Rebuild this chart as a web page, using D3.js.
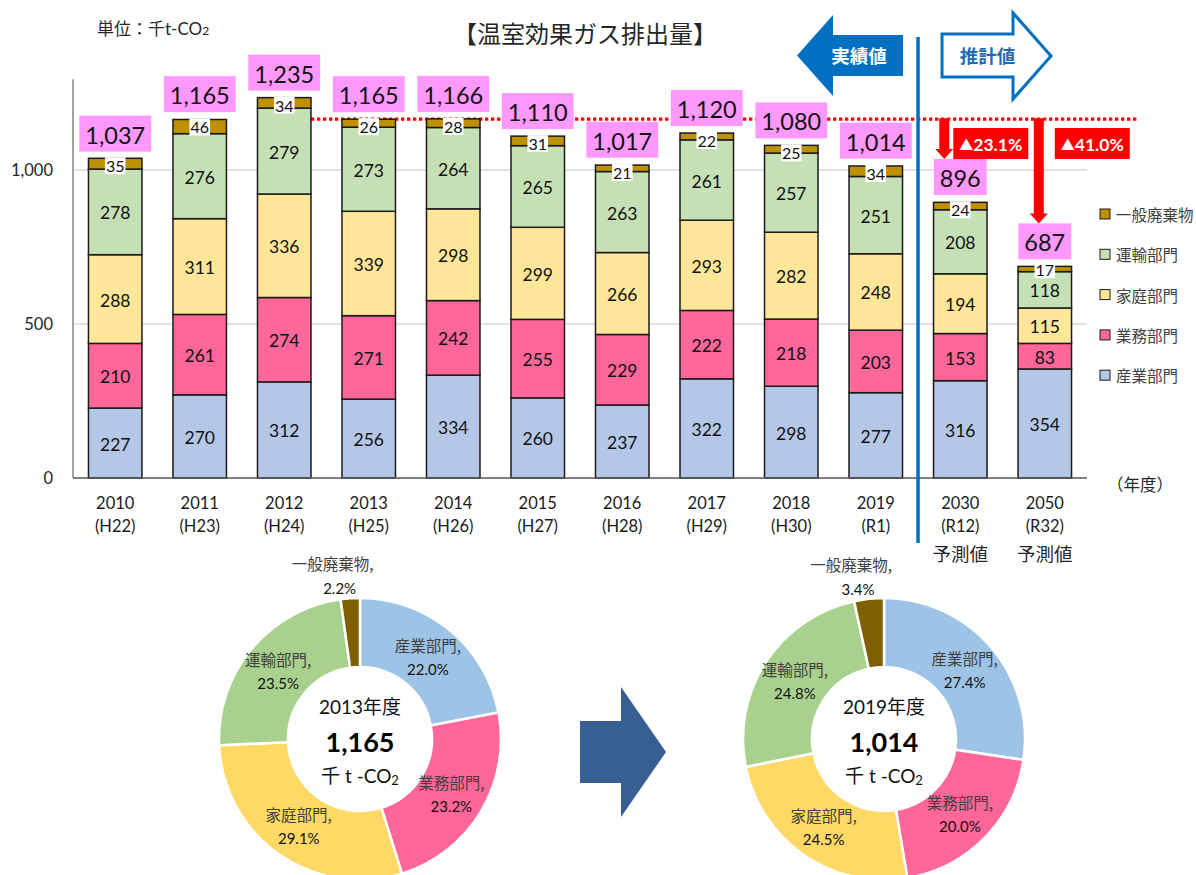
<!DOCTYPE html>
<html>
<head>
<meta charset="utf-8">
<script src="https://cdn.jsdelivr.net/npm/d3@7"></script>
<style>
  body { margin: 0; background: #fff; }
  svg { display: block; }
  text { font-family: Lato, "Noto Sans CJK JP", sans-serif; }
</style>
</head>
<body>
<svg id="chart" width="1196" height="875"></svg>
<script>
// ---- data -------------------------------------------------------------
const years      = ["2010","2011","2012","2013","2014","2015","2016","2017","2018","2019","2030","2050"];
const eraLabels  = ["(H22)","(H23)","(H24)","(H25)","(H26)","(H27)","(H28)","(H29)","(H30)","(R1)","(R12)","(R32)"];
const noteLabels = ["","","","","","","","","","","予測値","予測値"];
const sectors    = ["産業部門","業務部門","家庭部門","運輸部門","一般廃棄物"];
const industry   = [227,270,312,256,334,260,237,322,298,277,316,354];
const commercial = [210,261,274,271,242,255,229,222,218,203,153,83];
const household  = [288,311,336,339,298,299,266,293,282,248,194,115];
const transport  = [278,276,279,273,264,265,263,261,257,251,208,118];
const waste      = [35,46,34,26,28,31,21,22,25,34,24,17];
const totals     = [1037,1165,1235,1165,1166,1110,1017,1120,1080,1014,896,687];
const yTicks     = [0,500,1000];
const baseYear   = "2013";
const lastActual = "2019";
const targetYears = ["2030","2050"];
const share2013  = [22.0,23.2,29.1,23.5,2.2];
const share2019  = [27.4,20.0,24.5,24.8,3.4];

// ---- styling ----------------------------------------------------------
const barColors   = ["#b4c7e7","#ff6699","#ffe699","#c5e0b4","#bf9000"];
const donutColors = ["#9dc3e6","#ff6699","#ffd966","#a9d18e","#7f6000"];
const blue = "#0070c0";
const cjk = '"Noto Sans CJK JP", sans-serif';

const svg = d3.select("#chart");

// ---- scales -----------------------------------------------------------
const x = d3.scaleBand().domain(years).range([73, 1087]).paddingInner(0.367).paddingOuter(0.183);
const y = d3.scaleLinear().domain([0, 1300]).range([478, 478 - 1300 * 0.308]);
const bw = x.bandwidth();
const fmt = d3.format(",");

const rows = years.map((yr, i) => ({
  year: yr,
  [sectors[0]]: industry[i],
  [sectors[1]]: commercial[i],
  [sectors[2]]: household[i],
  [sectors[3]]: transport[i],
  [sectors[4]]: waste[i],
  total: totals[i]
}));
const stacked = d3.stack().keys(sectors)(rows);

// ---- titles -----------------------------------------------------------
svg.append("text").attr("x", 585).attr("y", 32).attr("text-anchor", "middle")
  .attr("dominant-baseline", "central").attr("font-size", 24).attr("fill", "#262626")
  .style("font-family", cjk).text("【温室効果ガス排出量】");

const unit = svg.append("text").attr("x", 97).attr("y", 28).attr("dominant-baseline", "central")
  .attr("font-size", 17).attr("fill", "#262626");
unit.append("tspan").text("単位：千t-CO");
unit.append("tspan").attr("font-size", 12).attr("dy", 2).text("2");

// ---- grid & axes ------------------------------------------------------
const grid = svg.append("g");
grid.selectAll("line").data(yTicks.filter(d => d > 0)).join("line")
  .attr("x1", 73).attr("x2", 1087).attr("y1", d => y(d)).attr("y2", d => y(d))
  .attr("stroke", "#d9d9d9").attr("stroke-width", 1.3);

const yAxis = svg.append("g").attr("transform", "translate(73,0)")
  .call(d3.axisLeft(y).tickValues(yTicks).tickSize(0).tickPadding(20).tickFormat(fmt));
yAxis.select(".domain").remove();
yAxis.selectAll("text").attr("font-size", 16.5).attr("fill", "#262626")
  .style("font-family", "Lato, sans-serif");

svg.append("line").attr("x1", 73).attr("x2", 73).attr("y1", y(0)).attr("y2", y(1295))
  .attr("stroke", "#8c8c8c").attr("stroke-width", 1.6);

// reference level of the base year
const baseTotal = totals[years.indexOf(baseYear)];
const refY = y(baseTotal);
svg.append("line")
  .attr("x1", x("2012") + bw).attr("x2", 1138).attr("y1", refY).attr("y2", refY)
  .attr("stroke", "#ff0000").attr("stroke-width", 3.2).attr("stroke-dasharray", "3.4,2.6");

// ---- stacked bars -----------------------------------------------------
const layers = svg.append("g").selectAll("g").data(stacked).join("g")
  .attr("fill", (d, i) => barColors[i]);
layers.selectAll("rect").data(d => d).join("rect")
  .attr("x", d => x(d.data.year)).attr("width", bw)
  .attr("y", d => y(d[1])).attr("height", d => y(d[0]) - y(d[1]))
  .attr("stroke", "#1a1a1a").attr("stroke-width", 1.5);

svg.append("line").attr("x1", 73).attr("x2", 1087).attr("y1", y(0)).attr("y2", y(0))
  .attr("stroke", "#595959").attr("stroke-width", 1.6);

// segment values (lower four sectors)
const segY = d => (y(d[0]) + y(d[1])) / 2 + 1;
const segLabels = svg.append("g");
stacked.slice(0, 4).forEach(layer => {
  segLabels.selectAll(null).data(layer).join("text")
    .attr("x", d => x(d.data.year) + bw / 2)
    .attr("y", segY)
    .attr("text-anchor", "middle").attr("dominant-baseline", "central")
    .attr("font-size", 17.5).attr("fill", "#111")
    .text(d => d[1] - d[0]);
});

// waste values on white tags at the top of each bar,
// lifted where the bar is short so they stay clear of the label below
const wasteLayer = stacked[4];
const transportLayer = stacked[3];
const tags = svg.append("g").selectAll("g").data(wasteLayer).join("g");
tags.append("text")
  .attr("x", d => x(d.data.year) + bw / 2)
  .attr("y", (d, i) => Math.min(y(d[1]) + 7.5, segY(transportLayer[i]) - 21))
  .attr("text-anchor", "middle").attr("dominant-baseline", "central")
  .attr("font-size", 16).attr("fill", "#111")
  .text(d => d[1] - d[0]);
tags.each(function() {
  const g = d3.select(this);
  const b = g.select("text").node().getBBox();
  g.insert("rect", "text").attr("x", b.x - 1).attr("y", b.y + 1).attr("width", b.width + 2)
    .attr("height", b.height - 2).attr("fill", "#fff");
});

// totals on pink tags
const boxH = 36, boxGap = 7;
const totalTags = svg.append("g").selectAll("g").data(rows).join("g");
totalTags.append("text")
  .attr("x", d => x(d.year) + bw / 2)
  .attr("y", d => y(d.total) - boxGap - boxH / 2 + 1)
  .attr("text-anchor", "middle").attr("dominant-baseline", "central")
  .attr("font-size", 23.5).attr("fill", "#111")
  .text(d => fmt(d.total));
totalTags.each(function(d) {
  const g = d3.select(this);
  const b = g.select("text").node().getBBox();
  g.insert("rect", "text").attr("x", b.x - 6).attr("width", b.width + 12)
    .attr("y", y(d.total) - boxGap - boxH).attr("height", boxH).attr("fill", "#ff99ff");
});

// ---- reduction arrows -------------------------------------------------
function downArrow(cx, y0, y1) {
  const sw = 5, hw = 9, hl = 10;
  return `M${cx - sw},${y0}L${cx + sw},${y0}L${cx + sw},${y1 - hl}L${cx + hw},${y1 - hl}` +
         `L${cx},${y1}L${cx - hw},${y1 - hl}L${cx - sw},${y1 - hl}Z`;
}
const arrowShift = { "2030": -16, "2050": -6 };
const badgeShift = { "2030": 9, "2050": 16 };
targetYears.forEach(yr => {
  const i = years.indexOf(yr);
  const ax = x(yr) + bw / 2 + arrowShift[yr];
  const tip = y(totals[i]) - boxGap - boxH;
  svg.append("path").attr("d", downArrow(ax, refY - 1, tip)).attr("fill", "#ff0000");
  const pct = ((baseTotal - totals[i]) / baseTotal * 100).toFixed(1);
  const bx = ax + badgeShift[yr];
  svg.append("rect").attr("x", bx).attr("y", 128).attr("width", 75).attr("height", 31).attr("fill", "#ff0000");
  const t = svg.append("text").attr("x", bx + 37.5).attr("y", 144).attr("text-anchor", "middle")
    .attr("dominant-baseline", "central").attr("font-weight", "bold").attr("fill", "#fff");
  t.append("tspan").attr("font-size", 14).style("font-family", cjk).text("▲");
  t.append("tspan").attr("font-size", 17.5).text(pct + "%");
});

// ---- actual / estimate divider ---------------------------------------
const divX = (x(lastActual) + bw + x(targetYears[0])) / 2;
svg.append("line").attr("x1", divX).attr("x2", divX).attr("y1", 37).attr("y2", 543)
  .attr("stroke", blue).attr("stroke-width", 3.5);

// solid arrow pointing left: actual values
const la = { right: divX - 15, left: divX - 121, neck: divX - 85, top: 35, bot: 76, headTop: 15, headBot: 96 };
svg.append("path")
  .attr("d", `M${la.left},${(la.headTop + la.headBot) / 2}L${la.neck},${la.headTop}L${la.neck},${la.top}` +
             `L${la.right},${la.top}L${la.right},${la.bot}L${la.neck},${la.bot}L${la.neck},${la.headBot}Z`)
  .attr("fill", blue);
svg.append("text").attr("x", (la.neck + la.right) / 2 - 9).attr("y", 55).attr("text-anchor", "middle")
  .attr("dominant-baseline", "central").attr("font-size", 18.5).attr("font-weight", "bold")
  .attr("fill", "#fff").style("font-family", cjk).text("実績値");

// outlined arrow pointing right: estimated values
const ra = { left: divX + 24, neck: divX + 95, tip: divX + 133, top: 34, bot: 77, headTop: 13, headBot: 99 };
svg.append("path")
  .attr("d", `M${ra.left},${ra.top}L${ra.neck},${ra.top}L${ra.neck},${ra.headTop}L${ra.tip},${(ra.headTop + ra.headBot) / 2}` +
             `L${ra.neck},${ra.headBot}L${ra.neck},${ra.bot}L${ra.left},${ra.bot}Z`)
  .attr("fill", "#fff").attr("stroke", blue).attr("stroke-width", 3).attr("stroke-linejoin", "miter");
svg.append("text").attr("x", (ra.left + ra.neck) / 2 + 10).attr("y", 55).attr("text-anchor", "middle")
  .attr("dominant-baseline", "central").attr("font-size", 18.5).attr("font-weight", "bold")
  .attr("fill", "#1f6cb0").style("font-family", cjk).text("推計値");

// ---- category labels --------------------------------------------------
const xl = svg.append("g").selectAll("g").data(years).join("g")
  .attr("transform", d => `translate(${x(d) + bw / 2},0)`);
xl.append("text").attr("y", 503).attr("text-anchor", "middle").attr("dominant-baseline", "central")
  .attr("font-size", 16.5).attr("fill", "#1a1a1a").text(d => d);
xl.append("text").attr("y", 526).attr("text-anchor", "middle").attr("dominant-baseline", "central")
  .attr("font-size", 16.5).attr("fill", "#1a1a1a").text((d, i) => eraLabels[i]);
xl.append("text").attr("y", 553).attr("text-anchor", "middle").attr("dominant-baseline", "central")
  .attr("font-size", 18.5).attr("fill", "#262626").style("font-family", cjk).text((d, i) => noteLabels[i]);

svg.append("text").attr("x", 1140).attr("y", 484).attr("text-anchor", "middle")
  .attr("dominant-baseline", "central").attr("font-size", 16.5).attr("fill", "#262626")
  .style("font-family", cjk).text("（年度）");

// ---- legend -----------------------------------------------------------
const legendOrder = sectors.map((s, i) => ({ name: s, color: barColors[i] })).reverse();
const lg = svg.append("g").selectAll("g").data(legendOrder).join("g")
  .attr("transform", (d, i) => `translate(1100,${214 + i * 40.3})`);
lg.append("rect").attr("x", 0).attr("y", -5).attr("width", 10).attr("height", 10)
  .attr("fill", d => d.color).attr("stroke", "#1a1a1a").attr("stroke-width", 1);
lg.append("text").attr("x", 16).attr("y", 0).attr("dominant-baseline", "central")
  .attr("font-size", 15.5).attr("fill", "#404040").style("font-family", cjk).text(d => d.name);

// ---- share donuts -----------------------------------------------------
function donut(cx, cy, shares, yearLabel, total) {
  const g = svg.append("g").attr("transform", `translate(${cx},${cy})`);
  const rOut = 141, rIn = 72;
  const pie = d3.pie().sort(null).value(d => d)(shares);
  const arc = d3.arc().innerRadius(rIn).outerRadius(rOut);
  g.selectAll("path").data(pie).join("path")
    .attr("d", arc).attr("fill", (d, i) => donutColors[i])
    .attr("stroke", "#fff").attr("stroke-width", 2.5);

  pie.forEach((p, i) => {
    let lx, ly;
    if (i < 4) {
      [lx, ly] = arc.centroid(p);
    } else {
      const a = (p.startAngle + p.endAngle) / 2;
      lx = Math.sin(a) * (rOut + 9) - 10;
      ly = -Math.cos(a) * (rOut + 9);
    }
    const off = i < 4 ? 12 : 0;
    g.append("text").attr("x", i < 4 ? lx : lx - 7).attr("y", ly - off - (i < 4 ? 0 : 26))
      .attr("text-anchor", "middle").attr("dominant-baseline", "central")
      .attr("font-size", 15.5).attr("fill", "#404040").style("font-family", cjk).text(sectors[i] + ",");
    g.append("text").attr("x", lx).attr("y", ly + off - (i < 4 ? 0 : 1))
      .attr("text-anchor", "middle").attr("dominant-baseline", "central")
      .attr("font-size", 15).attr("fill", "#111").text(p.data.toFixed(1) + "%");
  });

  g.append("text").attr("y", -33).attr("text-anchor", "middle").attr("dominant-baseline", "central")
    .attr("font-size", 19).attr("fill", "#111").text(yearLabel + "年度");
  g.append("text").attr("y", 2).attr("text-anchor", "middle").attr("dominant-baseline", "central")
    .attr("font-size", 27).attr("font-weight", "bold").attr("fill", "#000").text(fmt(total));
  const u = g.append("text").attr("y", 36).attr("text-anchor", "middle").attr("dominant-baseline", "central")
    .attr("font-size", 19).attr("fill", "#111");
  u.append("tspan").text("千 t -CO");
  u.append("tspan").attr("font-size", 13).attr("dy", 5).text("2");
}
donut(360, 739, share2013, baseYear, totals[years.indexOf(baseYear)]);
donut(884, 739, share2019, lastActual, totals[years.indexOf(lastActual)]);

// arrow between the two donuts
svg.append("path")
  .attr("d", "M580,721L621,721L621,687L666,752L621,817L621,783L580,783Z")
  .attr("fill", "#375f91");
</script>
</body>
</html>
